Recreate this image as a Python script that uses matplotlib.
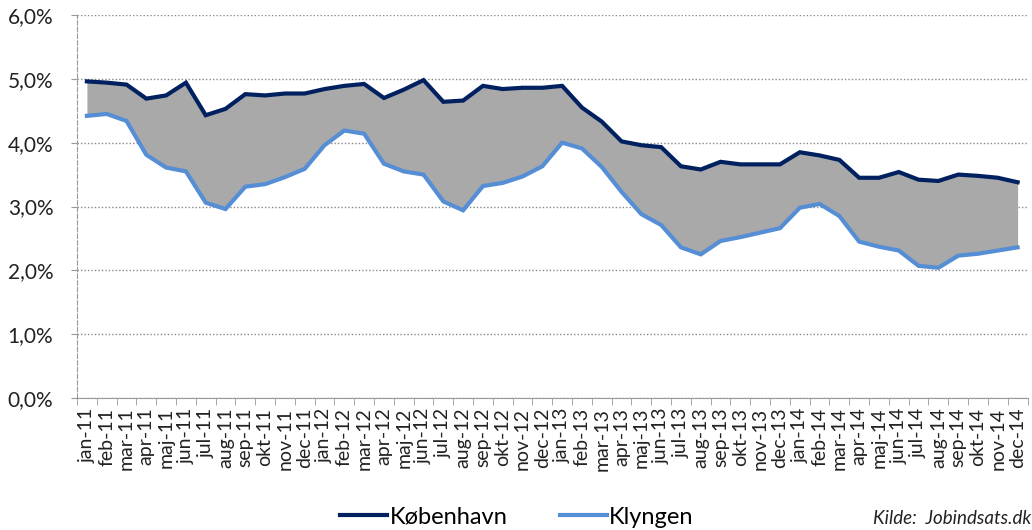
import matplotlib
matplotlib.use("Agg")
import matplotlib.pyplot as plt
import numpy as np

months = ["jan", "feb", "mar", "apr", "maj", "jun", "jul", "aug", "sep", "okt", "nov", "dec"]
years = ["11", "12", "13", "14"]
categories = [f"{m}-{y}" for y in years for m in months]

kobenhavn = [4.96, 4.94, 4.91, 4.69, 4.74, 4.94, 4.43, 4.53, 4.76, 4.74, 4.77, 4.77,
             4.84, 4.89, 4.92, 4.70, 4.83, 4.98, 4.64, 4.66, 4.89, 4.84, 4.86, 4.86,
             4.89, 4.55, 4.33, 4.02, 3.96, 3.93, 3.63, 3.58, 3.70, 3.66, 3.66, 3.66,
             3.85, 3.80, 3.73, 3.45, 3.45, 3.54, 3.42, 3.40, 3.50, 3.48, 3.45, 3.38]
klyngen = [4.42, 4.45, 4.34, 3.81, 3.61, 3.55, 3.06, 2.96, 3.31, 3.35, 3.46, 3.59,
           3.96, 4.19, 4.14, 3.67, 3.55, 3.50, 3.08, 2.94, 3.32, 3.37, 3.47, 3.63,
           4.00, 3.91, 3.62, 3.23, 2.88, 2.71, 2.36, 2.25, 2.46, 2.52, 2.59, 2.66,
           2.98, 3.04, 2.85, 2.45, 2.37, 2.31, 2.07, 2.04, 2.23, 2.26, 2.31, 2.36]
y_ticks = [0, 1, 2, 3, 4, 5, 6]
y_labels = ["0,0%", "1,0%", "2,0%", "3,0%", "4,0%", "5,0%", "6,0%"]

plt.rcParams['font.family'] = ['Lato', 'DejaVu Sans']

fig = plt.figure(figsize=(10.32, 5.30), dpi=100)
ax = fig.add_axes([77/1032, 1-398/530, (1027.5-77)/1032, (398-15)/530])

x = np.arange(len(categories))
ax.fill_between(x, klyngen, kobenhavn, color="#A9A9A9", linewidth=0, zorder=1)
l1, = ax.plot(x, kobenhavn, color="#002060", lw=3.0, label="København", zorder=3,
              solid_joinstyle="miter")
l2, = ax.plot(x, klyngen, color="#558ED5", lw=3.0, label="Klyngen", zorder=3,
              solid_joinstyle="miter")

ax.set_xlim(-0.5, len(categories) - 0.5)
ax.set_ylim(0, 6)
ax.set_yticks(y_ticks)
ax.set_yticklabels(y_labels, fontsize=15, color="#222222")
ax.set_xticks(x)
ax.set_xticklabels(categories, rotation=90, fontsize=14, color="#222222")
ax.set_xticks(np.arange(-0.5, len(categories), 1), minor=True)
ax.tick_params(axis="x", which="major", length=0, pad=7)
ax.tick_params(axis="x", which="minor", length=5, color="#999999", direction="out")
ax.tick_params(axis="y", length=4, color="#999999", direction="out", pad=13)

ax.yaxis.grid(True, linestyle=(0, (1, 1.5)), color="#888888", linewidth=1.0, zorder=0)
ax.set_axisbelow(True)
for s in ["top", "right"]:
    ax.spines[s].set_visible(False)
ax.spines["left"].set_linestyle((0, (4, 2)))
ax.spines["left"].set_color("#999999")
ax.spines["bottom"].set_color("#999999")

fig.legend(handles=[l1, l2], loc="center", bbox_to_anchor=(517/1032, 1-517/530),
           ncol=2, frameon=False, fontsize=17, handlelength=2.0, handletextpad=0.1,
           columnspacing=2.2)
fig.text(873/1032, 1-518/530, "Kilde:  Jobindsats.dk", fontsize=13.5, style="italic",
         va="center", ha="left", color="#222222")

fig.savefig("out.png", dpi=100)
